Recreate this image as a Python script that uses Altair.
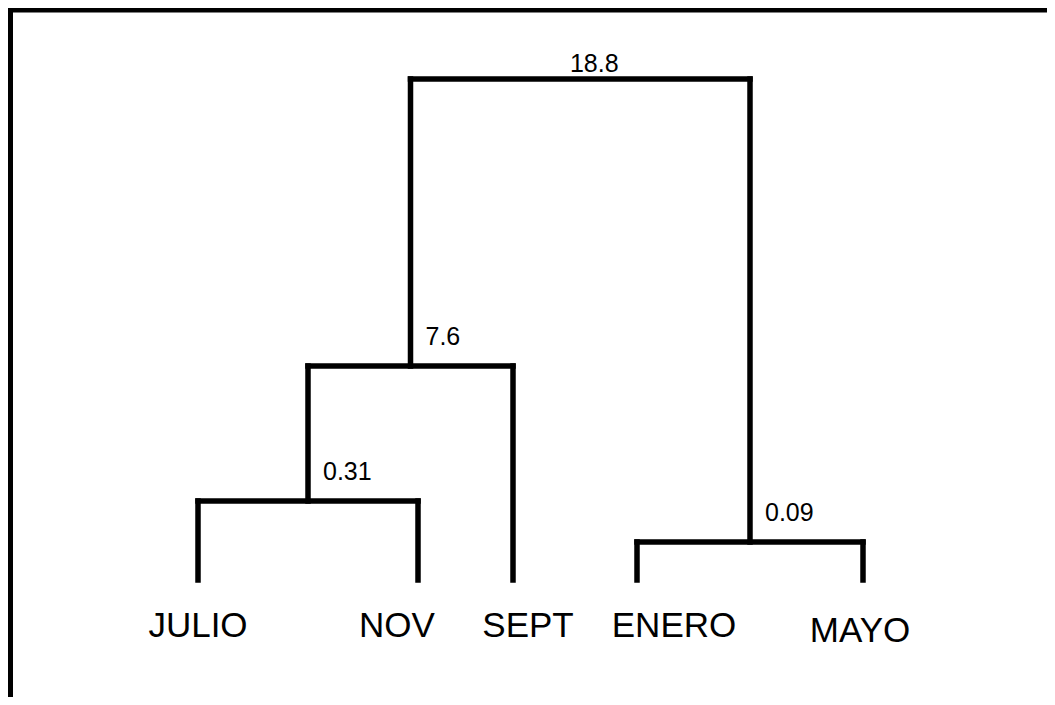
import altair as alt
import pandas as pd

# ---- data ----
leaves = ["JULIO", "NOV", "SEPT", "ENERO", "MAYO"]
leaf_pos = [190, 410, 505, 629, 855]          # position of each leaf along the horizontal axis
merge_name = ["A", "B", "C", "D"]
merge_left = ["JULIO", "A", "ENERO", "B"]
merge_right = ["NOV", "SEPT", "MAYO", "C"]
merge_height = [0.31, 7.6, 0.09, 18.8]        # fusion distance
merge_label = ["0.31", "7.6", "0.09", "18.8"]

# ---- layout / style ----
W, H = 1039, 689
level_px = [572, 534, 493, 358, 71]           # drawing level for heights 0, 0.09, 0.31, 7.6, 18.8
label_dx = {"JULIO": 0, "NOV": -21, "SEPT": 15, "ENERO": 37, "MAYO": -3}
label_dy = {"JULIO": 57, "NOV": 57, "SEPT": 57, "ENERO": 57, "MAYO": 62}
FONT = "Liberation Sans"

# ---- dendrogram layout ----
pos = dict(zip(leaves, leaf_pos))
hgt = {n: 0.0 for n in leaves}
segs = []
for name, l, r, h in zip(merge_name, merge_left, merge_right, merge_height):
    lx, rx = pos[l], pos[r]
    pos[name] = (lx + rx) / 2
    hgt[name] = h
    segs.append({"x": lx, "x2": rx, "y": h, "y2": h})
    segs.append({"x": lx, "x2": lx, "y": hgt[l], "y2": h})
    segs.append({"x": rx, "x2": rx, "y": hgt[r], "y2": h})
seg_df = pd.DataFrame(segs)

nodes_df = pd.DataFrame({
    "x": [pos[n] for n in merge_name],
    "y": merge_height,
    "label": merge_label,
})
inner_df = nodes_df[nodes_df["y"] < max(merge_height)]
root_df = nodes_df[nodes_df["y"] == max(merge_height)]

xs = alt.Scale(domain=[0, W], range=[0, W])
ys = alt.Scale(domain=[0] + sorted(merge_height), range=level_px)

def X(f="x"):
    return alt.X(f, type="quantitative", scale=xs, axis=None)

def Y(f="y"):
    return alt.Y(f, type="quantitative", scale=ys, axis=None)

branches = alt.Chart(seg_df).mark_rule(color="black", strokeWidth=5.5, strokeCap="square").encode(
    x=X(), x2="x2", y=Y(), y2="y2"
)

inner_text = alt.Chart(inner_df).mark_text(
    align="left", baseline="alphabetic", dx=15, dy=-21, fontSize=25, font=FONT, color="black"
).encode(x=X(), y=Y(), text="label")

root_text = alt.Chart(root_df).mark_text(
    align="center", baseline="alphabetic", dx=14, dy=-7, fontSize=25, font=FONT, color="black"
).encode(x=X(), y=Y(), text="label")

leaf_layers = []
for name in leaves:
    d = pd.DataFrame({"x": [pos[name]], "y": [0.0], "label": [name]})
    leaf_layers.append(
        alt.Chart(d).mark_text(
            align="center", baseline="alphabetic", dx=label_dx[name], dy=label_dy[name],
            fontSize=35, font=FONT, color="black"
        ).encode(x=X(), y=Y(), text="label")
    )

frame_top = alt.Chart(pd.DataFrame({"a": [0]})).mark_rule(color="black", strokeWidth=5).encode(
    x=alt.value(0), x2=alt.value(W), y=alt.value(2)
)
frame_left = alt.Chart(pd.DataFrame({"a": [0]})).mark_rule(color="black", strokeWidth=6).encode(
    x=alt.value(2), y=alt.value(0), y2=alt.value(H)
)

chart = alt.layer(frame_top, frame_left, branches, inner_text, root_text, *leaf_layers).properties(
    width=W, height=H, padding=0, autosize=alt.AutoSizeParams(type="none"), background="white"
).configure_view(stroke=None)

chart.save("out.html", embed_options={"renderer": "svg", "actions": False})
